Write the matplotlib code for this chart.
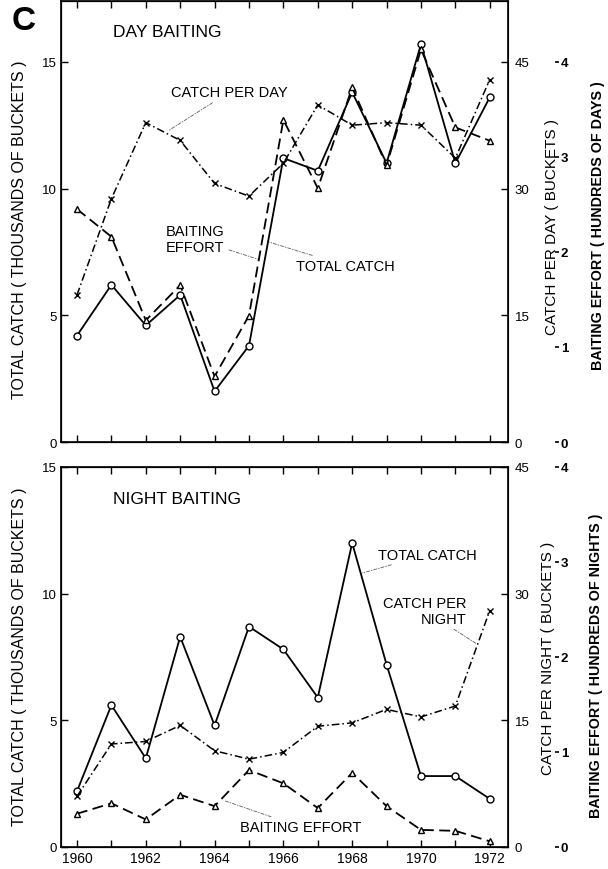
import matplotlib.pyplot as plt

plt.rcParams['font.family'] = ['Liberation Sans', 'DejaVu Sans']

years = list(range(1960, 1973))

# day baiting
day_total = [4.2, 6.2, 4.6, 5.8, 2.0, 3.8, 11.2, 10.7, 13.8, 11.0, 15.7, 11.0, 13.6]   # thousands of buckets
day_effort = [2.45, 2.16, 1.28, 1.65, 0.69, 1.33, 3.39, 2.67, 3.73, 2.91, 4.13, 3.31, 3.17]  # hundreds of days
day_cpue = [17.4, 28.8, 37.8, 35.7, 30.6, 29.1, 33.0, 39.9, 37.5, 37.8, 37.5, 33.6, 42.9]  # buckets per day

# night baiting
night_total = [2.2, 5.6, 3.5, 8.3, 4.8, 8.7, 7.8, 5.9, 12.0, 7.2, 2.8, 2.8, 1.9]
night_effort = [0.35, 0.46, 0.29, 0.55, 0.43, 0.81, 0.67, 0.41, 0.78, 0.43, 0.18, 0.17, 0.06]
night_cpue = [6.0, 12.2, 12.5, 14.4, 11.4, 10.4, 11.2, 14.3, 14.7, 16.3, 15.4, 16.7, 28.0]

left_ticks = [0, 5, 10, 15]
cpue_ticks = [0, 15, 30, 45]
effort_ticks = [0, 1, 2, 3, 4]
year_labels = [str(y) if y % 2 == 0 else '' for y in years]

W, H = 608, 870
fig = plt.figure(figsize=(W / 100, H / 100), dpi=100)


def px(x, y):
    return x / W, 1 - y / H


def panel(rect, ytop, total, effort, cpue):
    ax = fig.add_axes(rect)
    ax.set_xlim(1959.535, 1972.53)
    ax.set_ylim(0, ytop)
    ax.set_xticks(years)
    ax.set_yticks(left_ticks)
    ax.tick_params(axis='both', direction='in', length=5, width=1, labelsize=9.5, pad=3)
    ax.tick_params(axis='x', top=True, labelsize=10, pad=3)
    for s in ax.spines.values():
        s.set_linewidth(1.2)

    ax_c = ax.twinx()
    ax_c.set_ylim(0, ytop * 3)
    ax_c.set_yticks(cpue_ticks)
    ax_c.tick_params(direction='in', length=5, width=1, labelsize=9.5, pad=5)

    ax_e = ax.twinx()
    ax_e.set_ylim(0, ytop / 3.75)
    ax_e.set_yticks(effort_ticks)
    ax_e.spines['right'].set_position(('outward', 34))
    ax_e.spines['right'].set_visible(False)
    ax_e.tick_params(direction='out', length=3, width=1.2, labelsize=9.5, pad=1)
    for t in ax_e.get_yticklabels():
        t.set_fontweight('bold')

    ax.plot(years, total, '-', color='black', lw=1.3, marker='o', ms=5,
            mfc='white', mec='black', mew=1, zorder=3)
    ax_e.plot(years, effort, color='black', lw=1.3, ls=(0, (6, 3)), marker='^', ms=5,
              mfc='white', mec='black', mew=1, zorder=3)
    ax_c.plot(years, cpue, color='black', lw=1.1, ls=(0, (5, 2, 1, 2)), marker='x', ms=5,
              mec='black', mew=1, zorder=3)
    return ax


lead = dict(arrowstyle='-', lw=0.6, color='0.35', ls=(0, (4, 2, 1, 2)), shrinkA=1, shrinkB=1)

# top panel: day baiting
ax1 = panel([61 / W, 1 - 443 / H, 447 / W, 441 / H], 17.4, day_total, day_effort, day_cpue)
ax1.tick_params(axis='x', labelbottom=False)
ax1.text(1961.05, 16.2, 'DAY BAITING', fontsize=12.5, va='center', ha='left')
ax1.annotate('CATCH PER DAY', xy=(1962.62, 12.25), xytext=(1964.42, 13.8),
             fontsize=10.5, ha='center', va='center', arrowprops=lead)
ax1.annotate('BAITING\nEFFORT', xy=(1965.29, 7.2), xytext=(1964.3, 8.0),
             fontsize=10.5, ha='right', va='center', multialignment='left',
             arrowprops=lead)
ax1.annotate('TOTAL CATCH', xy=(1965.55, 7.9), xytext=(1966.37, 6.96),
             fontsize=10.5, ha='left', va='center', arrowprops=lead)

# bottom panel: night baiting
ax2 = panel([61 / W, 1 - 848 / H, 447 / W, 380 / H], 15, night_total, night_effort, night_cpue)
ax2.set_xticklabels(year_labels)
ax2.text(1961.05, 13.75, 'NIGHT BAITING', fontsize=12.5, va='center', ha='left')
ax2.annotate('TOTAL CATCH', xy=(1968.25, 10.8), xytext=(1968.75, 11.54),
             fontsize=10.5, ha='left', va='center', arrowprops=lead)
ax2.annotate('CATCH PER\nNIGHT', xy=(1971.64, 8.0), xytext=(1970.12, 9.33),
             fontsize=10.5, ha='center', va='center', multialignment='right',
             arrowprops=lead)
ax2.annotate('BAITING EFFORT', xy=(1964.24, 1.85), xytext=(1964.74, 0.79),
             fontsize=10.5, ha='left', va='center', arrowprops=lead)

# panel letter and axis titles
fig.text(*px(24, 22), 'C', fontsize=24, fontweight='bold', ha='center', va='center')
fig.text(*px(20, 230), 'TOTAL CATCH ( THOUSANDS OF BUCKETS )', rotation=90,
         fontsize=11.5, ha='center', va='center')
fig.text(*px(552, 227), 'CATCH PER DAY ( BUCKETS )', rotation=90,
         fontsize=11, ha='center', va='center')
fig.text(*px(598, 226), 'BAITING EFFORT ( HUNDREDS OF DAYS )', rotation=90,
         fontsize=10.3, fontweight='bold', ha='center', va='center')
fig.text(*px(20, 657), 'TOTAL CATCH ( THOUSANDS OF BUCKETS )', rotation=90,
         fontsize=11.5, ha='center', va='center')
fig.text(*px(548, 658), 'CATCH PER NIGHT ( BUCKETS )', rotation=90,
         fontsize=11, ha='center', va='center')
fig.text(*px(596, 666), 'BAITING EFFORT ( HUNDREDS OF NIGHTS )', rotation=90,
         fontsize=10.3, fontweight='bold', ha='center', va='center')

fig.savefig('out.png', dpi=100)
